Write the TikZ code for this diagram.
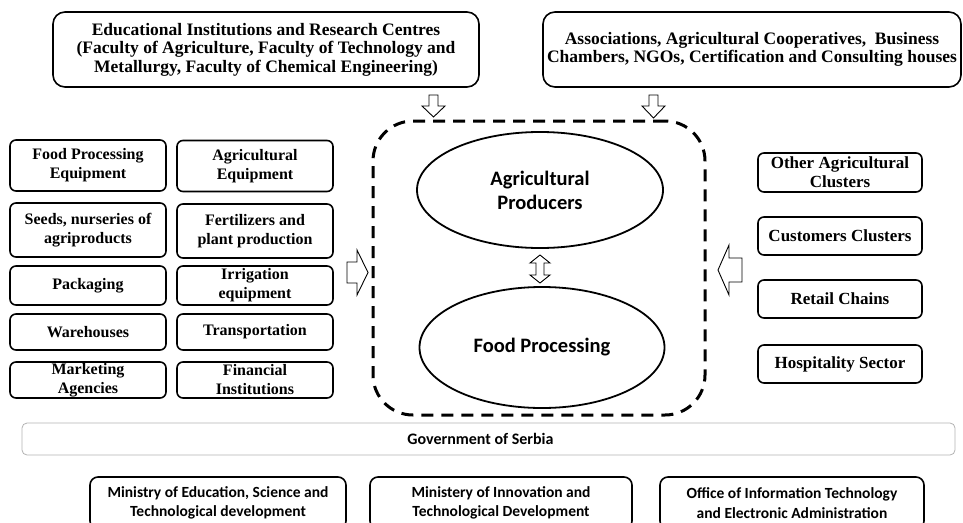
\documentclass[tikz,border=0pt]{standalone}
\usepackage{fontspec}
\setmainfont{Liberation Serif}
\newfontfamily\calib{Carlito}
\usetikzlibrary{shapes.geometric}
\tikzset{
  bigbox/.style={draw, line width=1.6pt, rounded corners=12pt, inner sep=0pt, align=center,
    font=\bfseries\fontsize{17.5}{18.5}\selectfont},
  sbox/.style={draw, line width=1.6pt, rounded corners=6pt, inner sep=0pt, align=center,
    font=\bfseries\fontsize{16}{19}\selectfont},
  rbox/.style={draw, line width=1.6pt, rounded corners=6pt, inner sep=0pt, align=center,
    minimum width=164pt, font=\bfseries\fontsize{17}{19}\selectfont},
  ell/.style={draw, ellipse, line width=1.8pt, inner sep=0pt, align=center,
    font=\calib\bfseries\fontsize{20.5}{24}\selectfont},
  cluster/.style={draw, dashed, dash pattern=on 12pt off 8pt, line width=3pt, rounded corners=40pt},
  govbar/.style={draw=black!30, line width=0.8pt, rounded corners=5pt, inner sep=0pt,
    font=\calib\bfseries\fontsize{16}{19}\selectfont},
  minbox/.style={draw, line width=1.6pt, rounded corners=8pt, inner sep=0pt, align=center,
    minimum height=52pt, font=\calib\bfseries\fontsize{15.5}{19.5}\selectfont},
  blockarrow/.style={draw, fill=white, line width=0.9pt, line join=miter},
}
\begin{document}
\begin{tikzpicture}[x=1pt,y=-1pt]
\useasboundingbox (0,0) rectangle (963,522);
\clip (0,0) rectangle (963,522);

% top boxes
\node[bigbox, minimum width=426pt, minimum height=75pt] (edu) at (266,49.5)
  {Educational Institutions and Research Centres\\(Faculty of Agriculture, Faculty of Technology and\\Metallurgy, Faculty of Chemical Engineering)};
\node[bigbox, minimum width=418pt, minimum height=75pt] (assoc) at (752,49.5)
  {Associations, Agricultural Cooperatives,\ \ Business\\Chambers, NGOs, Certification and Consulting houses};

% cluster
\node[cluster, minimum width=332pt, minimum height=294pt] (clu) at (539,268) {};
\node[ell, minimum width=246pt, minimum height=116pt] (ap) at (540,190) {Agricultural\\Producers};
\node[ell, minimum width=245pt, minimum height=121pt] (fp) at (542,347.5) {Food Processing};

% left boxes
\node[sbox, minimum width=156pt, minimum height=51pt] (l11) at (88,165.5) {Food Processing\\Equipment};
\node[sbox, minimum width=156pt, minimum height=54pt] (l21) at (88,230) {Seeds, nurseries of\\agriproducts};
\node[sbox, minimum width=156pt, minimum height=39pt] (l31) at (88,285.5) {Packaging};
\node[sbox, minimum width=156pt, minimum height=36pt] (l41) at (88,332) {Warehouses};
\node[sbox, minimum width=156pt, minimum height=36pt] (l51) at (88,380) {Marketing\\Agencies};
\node[sbox, minimum width=156pt, minimum height=51pt] (l12) at (255,166) {Agricultural\\Equipment};
\node[sbox, minimum width=156pt, minimum height=54pt] (l22) at (255,231) {Fertilizers and\\plant production};
\node[sbox, minimum width=156pt, minimum height=39pt] (l32) at (255,285.5) {Irrigation\\equipment};
\node[sbox, minimum width=156pt, minimum height=36pt] (l42) at (255,332) {Transportation};
\node[sbox, minimum width=156pt, minimum height=36pt] (l52) at (255,380) {Financial\\Institutions};

% right boxes
\node[rbox, minimum height=39pt] (r1) at (840,172.5) {Other Agricultural\\Clusters};
\node[rbox, minimum height=38pt] (r2) at (840,236) {Customers Clusters};
\node[rbox, minimum height=38pt] (r3) at (840,299) {Retail Chains};
\node[rbox, minimum height=38pt] (r4) at (840,364) {Hospitality Sector};

% government
\node[govbar, minimum width=933pt, minimum height=32pt] (gov) at (488.5,439) {\hspace*{-16pt}Government of Serbia};
\node[minbox, minimum width=256pt] (m1) at (218,503) {Ministry of Education, Science and\\Technological development};
\node[minbox, minimum width=262pt] (m2) at (501,503) {Ministery of Innovation and\\Technological Development};
\node[minbox, minimum width=264pt] (m3) at (792,503) {Office of Information Technology\\and Electronic Administration};

% block arrows
\draw[blockarrow] (429,95) -- (438,95) -- (438,106) -- (445,106) -- (433.5,117) -- (422,106) -- (429,106) -- cycle;
\draw[blockarrow] (649,95) -- (658,95) -- (658,106) -- (665,106) -- (653.5,118) -- (642,106) -- (649,106) -- cycle;
\draw[blockarrow] (347,262) -- (357,262) -- (357,250) -- (368,272.5) -- (357,295) -- (357,283) -- (347,283) -- cycle;
\draw[blockarrow] (742,258) -- (729,258) -- (729,245) -- (718,270) -- (729,295) -- (729,282) -- (742,282) -- cycle;
\draw[blockarrow] (540,255) -- (550,263) -- (544,263) -- (544,275) -- (550,275) -- (540,283) -- (530,275) -- (536,275) -- (536,263) -- (530,263) -- cycle;
\end{tikzpicture}
\end{document}
